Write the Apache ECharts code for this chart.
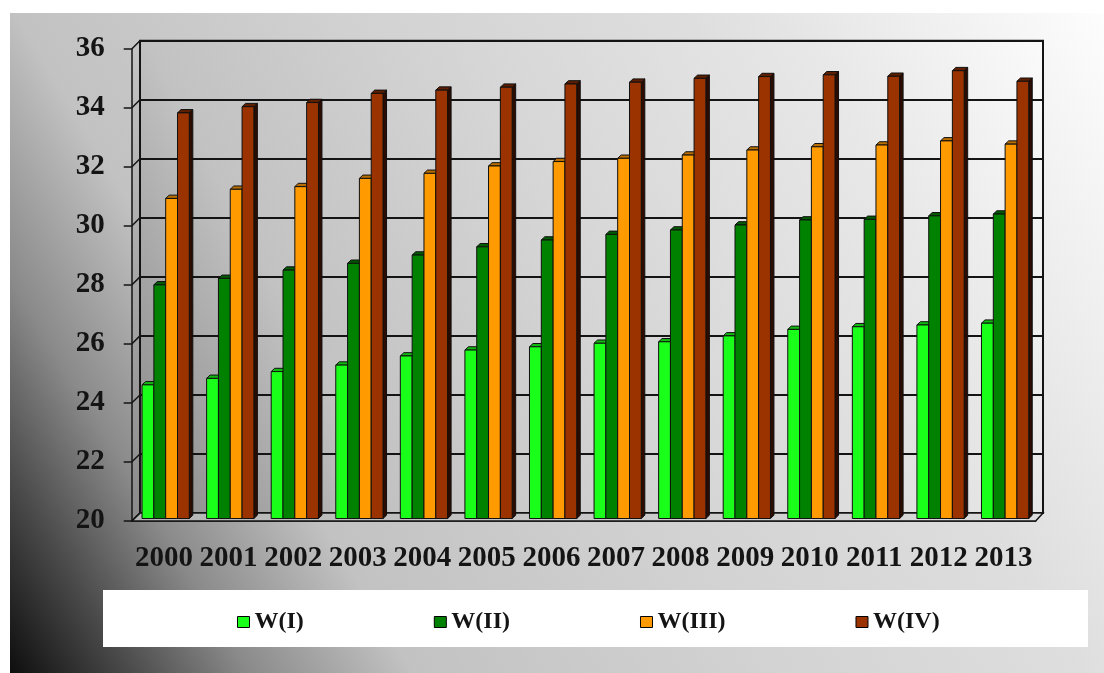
<!DOCTYPE html>
<html>
<head>
<meta charset="utf-8">
<script src="https://cdn.jsdelivr.net/npm/echarts@6/dist/echarts.min.js"></script>
<style>
  html, body { margin: 0; padding: 0; background: #ffffff; }
  #chart { width: 1104px; height: 673px; }
</style>
</head>
<body>
<div id="chart"></div>
<script>
// ---- data ----
const years = ['2000', '2001', '2002', '2003', '2004', '2005', '2006',
               '2007', '2008', '2009', '2010', '2011', '2012', '2013'];
const seriesNames = ['W(I)', 'W(II)', 'W(III)', 'W(IV)'];
const wI   = [24.53, 24.75, 24.98, 25.20, 25.51, 25.71, 25.82, 25.94, 25.99, 26.19, 26.41, 26.50, 26.56, 26.62];
const wII  = [27.92, 28.14, 28.42, 28.65, 28.93, 29.21, 29.44, 29.63, 29.78, 29.95, 30.12, 30.14, 30.26, 30.32];
const wIII = [30.85, 31.16, 31.25, 31.53, 31.70, 31.95, 32.10, 32.21, 32.32, 32.49, 32.60, 32.66, 32.80, 32.69];
const wIV  = [33.75, 33.96, 34.10, 34.41, 34.52, 34.62, 34.73, 34.79, 34.92, 34.98, 35.04, 34.99, 35.18, 34.82];
const yMin = 20, yMax = 36, yStep = 2;

// ---- styling ----
const FACE = ['#1aff1a', '#008200', '#ff9a00', '#9a3300'];
const CAP  = ['#12b812', '#005c00', '#b86e00', '#5e1f00'];
const SIDE = ['#0b6a0b', '#003000', '#6e4200', '#2c0c00'];
const FONT = 'Liberation Serif, Times New Roman, serif';
const INK = '#141414';

// box layout: back wall, front axis plane, and the plane the columns stand on
const BACK  = { left: 140, top: 40.7, width: 903, height: 472.3 };
const FRONT = { left: 131.7, top: 49, width: 904, height: 472 };
const BARS  = { left: 133.4, top: 46.5, width: 904, height: 472 };

const seriesValues = [wI, wII, wIII, wIV];

// 3D-looking column: front face, top cap and right side face
function makeColumn(k) {
  return function (params, api) {
    const cat = api.value(0);
    const v = api.value(1);
    const top = api.coord([cat, v]);
    const base = api.coord([cat, yMin]);
    const band = api.size([1, 0])[0];
    const w = band * 0.183;
    const x0 = top[0] - 2 * w + k * w;
    const dx = 3.5, dy = 3.3;
    const yt = top[1], yb = base[1];
    const edge = { stroke: '#101010', lineWidth: 1, lineJoin: 'round' };
    return {
      type: 'group',
      children: [
        { type: 'polygon',
          shape: { points: [[x0 + w, yt], [x0 + w + dx, yt - dy], [x0 + w + dx, yb - dy], [x0 + w, yb]] },
          style: Object.assign({ fill: SIDE[k] }, edge) },
        { type: 'polygon',
          shape: { points: [[x0, yt], [x0 + w, yt], [x0 + w + dx, yt - dy], [x0 + dx, yt - dy]] },
          style: Object.assign({ fill: CAP[k] }, edge) },
        { type: 'rect',
          shape: { x: x0, y: yt, width: w, height: yb - yt },
          style: Object.assign({ fill: FACE[k] }, edge) }
      ]
    };
  };
}

const chart = echarts.init(document.getElementById('chart'), null, { renderer: 'canvas' });

const axisText = { fontFamily: FONT, fontSize: 29, fontWeight: 'bold', color: INK };

chart.setOption({
  animation: false,
  backgroundColor: 'transparent',
  grid: [
    Object.assign({ show: true, borderColor: INK, borderWidth: 2, backgroundColor: 'transparent' }, BACK),
    Object.assign({}, FRONT),
    Object.assign({}, BARS)
  ],
  xAxis: [
    { gridIndex: 0, type: 'category', data: years, show: false },
    { gridIndex: 1, type: 'category', data: years,
      axisLine: { lineStyle: { color: INK, width: 1.5 } },
      axisTick: { length: 8, lineStyle: { color: INK, width: 1.5 } },
      axisLabel: Object.assign({ margin: 23, interval: 0 }, axisText),
      splitLine: { show: false } },
    { gridIndex: 2, type: 'category', data: years, show: false }
  ],
  yAxis: [
    { gridIndex: 0, type: 'value', min: yMin, max: yMax, interval: yStep,
      axisLine: { show: false }, axisTick: { show: false }, axisLabel: { show: false },
      splitLine: { show: true, lineStyle: { color: INK, width: 2 } } },
    { gridIndex: 1, type: 'value', min: yMin, max: yMax, interval: yStep,
      axisLine: { show: true, lineStyle: { color: INK, width: 1.5 } },
      axisTick: { show: true, length: 8, lineStyle: { color: INK, width: 1.5 } },
      axisLabel: Object.assign({ margin: 27 }, axisText),
      splitLine: { show: false } },
    { gridIndex: 2, type: 'value', min: yMin, max: yMax, interval: yStep, show: false,
      splitLine: { show: false } }
  ],
  legend: {
    data: seriesNames,
    left: 232, top: 604,
    icon: 'rect',
    itemWidth: 12, itemHeight: 11, itemGap: 130,
    itemStyle: { borderColor: '#000', borderWidth: 1 },
    textStyle: { fontFamily: FONT, fontSize: 24, fontWeight: 'bold', color: INK, lineHeight: 26 }
  },
  series: seriesNames.map((name, k) => ({
    name: name,
    type: 'custom',
    xAxisIndex: 2, yAxisIndex: 2,
    renderItem: makeColumn(k),
    itemStyle: { color: FACE[k] },
    encode: { x: 0, y: 1 },
    data: years.map((y, i) => [i, seriesValues[k][i]])
  }))
});

// ---- frame: background, walls, floor and side-wall lines from the axis scales ----
const frontL = FRONT.left, backL = BACK.left;
const frontR = FRONT.left + FRONT.width, backR = BACK.left + BACK.width;
const frontB = chart.convertToPixel({ yAxisIndex: 1 }, yMin);
const frontT = chart.convertToPixel({ yAxisIndex: 1 }, yMax);
const backB = chart.convertToPixel({ yAxisIndex: 0 }, yMin);
const backT = chart.convertToPixel({ yAxisIndex: 0 }, yMax);

const frame = [
  { id: 'bg', type: 'rect', z: -100, silent: true,
    shape: { x: 10, y: 13, width: 1094, height: 660 },
    style: { fill: new echarts.graphic.LinearGradient(0, 1, 1, 0, [
      { offset: 0, color: '#0e0e0e' },
      { offset: 0.08, color: '#4a4a4a' },
      { offset: 0.16, color: '#8a8a8a' },
      { offset: 0.27, color: '#c2c2c2' },
      { offset: 0.5, color: '#d2d2d2' },
      { offset: 0.72, color: '#dedede' },
      { offset: 1, color: '#fdfdfd' }]) } },
  { id: 'wall', type: 'rect', z: -90, silent: true,
    shape: { x: BACK.left, y: BACK.top, width: BACK.width, height: BACK.height },
    style: { fill: new echarts.graphic.LinearGradient(0, 1, 1, 0, [
      { offset: 0, color: '#868686' },
      { offset: 0.22, color: '#c2c2c2' },
      { offset: 0.5, color: '#d6d6d6' },
      { offset: 0.8, color: '#e8e8e8' },
      { offset: 1, color: '#fafafa' }]) } },
  { id: 'sidewall', type: 'polygon', z: -89, silent: true,
    shape: { points: [[frontL, frontT], [backL, backT], [backL, backB], [frontL, frontB]] },
    style: { fill: new echarts.graphic.LinearGradient(0, 0, 0, 1, [
      { offset: 0, color: '#c4c4c4' }, { offset: 1, color: '#8a8a8a' }]) } },
  { id: 'floor', type: 'polygon', z: 1, silent: true,
    shape: { points: [[frontL, frontB], [frontR, frontB], [backR, backB], [backL, backB]] },
    style: { fill: new echarts.graphic.LinearGradient(0, 0, 1, 0, [
      { offset: 0, color: '#b4b4b4' }, { offset: 1, color: '#dcdcdc' }]),
      stroke: INK, lineWidth: 1.5 } },
  { id: 'legendBox', type: 'rect', z: -80, silent: true,
    shape: { x: 103, y: 590, width: 985, height: 57 },
    style: { fill: '#ffffff' } }
];
for (let v = yMin; v <= yMax; v += yStep) {
  const yf = chart.convertToPixel({ yAxisIndex: 1 }, v);
  const yb = chart.convertToPixel({ yAxisIndex: 0 }, v);
  frame.push({ id: 'side' + v, type: 'line', z: 1, silent: true,
    shape: { x1: frontL, y1: yf, x2: backL, y2: yb },
    style: { stroke: INK, lineWidth: 1.5 } });
}
chart.setOption({ graphic: frame });
</script>
</body>
</html>
